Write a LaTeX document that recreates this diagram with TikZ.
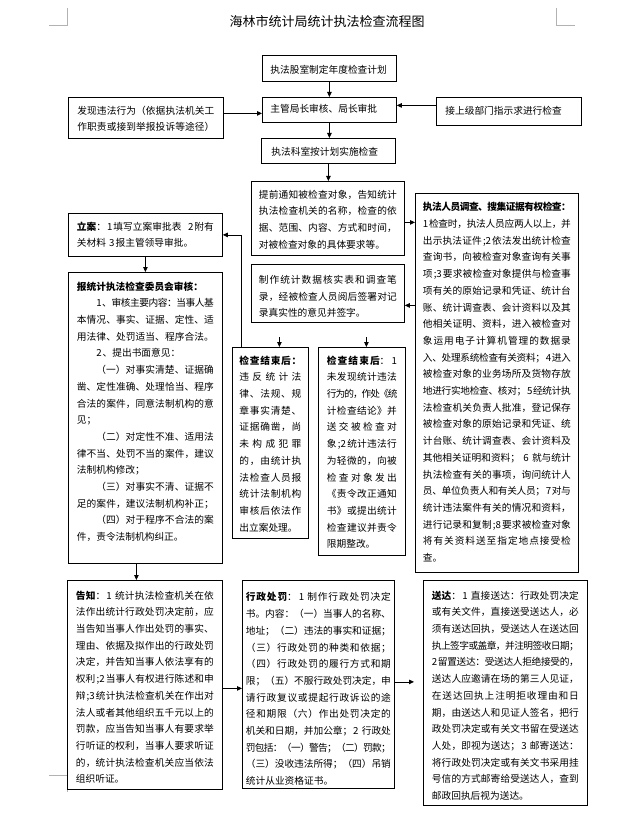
\documentclass[tikz,border=0pt]{standalone}
\usepackage{fontspec}
\setmainfont{Noto Sans CJK SC}
\usetikzlibrary{positioning, arrows.meta, calc}

% glue between Chinese characters, so that set lines can be justified
\XeTeXinterchartokenstate=1
\chardef\hzclass=10
\newcount\hzcnt
\hzcnt="3000 \loop\XeTeXcharclass\hzcnt=\hzclass \advance\hzcnt by 1 \ifnum\hzcnt<"3040 \repeat
\hzcnt="4E00 \loop\XeTeXcharclass\hzcnt=\hzclass \advance\hzcnt by 1 \ifnum\hzcnt<"A000 \repeat
\hzcnt="FF00 \loop\XeTeXcharclass\hzcnt=\hzclass \advance\hzcnt by 1 \ifnum\hzcnt<"FFF0 \repeat
\XeTeXinterchartoks\hzclass\hzclass={\hskip 0pt plus 1pt minus 1pt\relax}
\XeTeXinterchartoks 0 \hzclass={\hskip 1pt plus 1pt minus 1pt\relax}
\XeTeXinterchartoks\hzclass 0 ={\hskip 1pt plus 1pt minus 1pt\relax}

\newcommand\jline[1]{\hbox to\linewidth{#1}}
\newcommand\lline[1]{\hbox to\linewidth{#1\hfil}}

\begin{document}
\begin{tikzpicture}[
  x=1pt, y=-1pt,
  font=\fontsize{9.7}{16.7}\selectfont,
  flowbox/.style={draw, line width=0.8pt, fill=white, anchor=north west, inner xsep=2pt, inner ysep=0pt, text height=16.7pt},
  arr/.style={-{Triangle[length=5pt,width=4.5pt]}, line width=0.8pt},
  cropmark/.style={draw=gray!60, line width=0.6pt}
]
\useasboundingbox (0,0) rectangle (623,826);

% page corner marks
\draw[cropmark] (49,25) -- (67,25) -- (67,8);
\draw[cropmark] (575,25) -- (556,25) -- (556,8);
\draw[cropmark] (49,775) -- (67,775) -- (67,792);

\node[font=\fontsize{13}{15}\selectfont] (title) at (327,22) {海林市统计局统计执法检查流程图};

% top row
\node[flowbox, text width=118pt, minimum width=134pt, text height=18.5pt, text depth=7.5pt] (planbox) at (262,55) {\lline{执法股室制定年度检查计划}};
\node[flowbox, text width=118pt, minimum width=134pt, text height=15pt, text depth=10pt] (approvebox) at (262,97) {\lline{主管局长审核、局长审批}};
\node[flowbox, text width=137pt, minimum width=155pt, text depth=24.3pt] (findbox) at (68,97) {%
  \jline{发现违法行为（依据执法机关工}
  \jline{作职责或接到举报投诉等途径）}};
\node[flowbox, text width=127pt, minimum width=145pt, text depth=11.3pt] (upperbox) at (436,97) {\lline{接上级部门指示求进行检查}};
\node[flowbox, text width=114pt, minimum width=134pt, text height=17.4pt, text depth=7.6pt] (executebox) at (261,138) {\lline{执法科室按计划实施检查}};

% middle column
\node[flowbox, text width=138pt, minimum width=153pt, text depth=57.3pt] (noticebox) at (251,181) {%
  \jline{提前通知被检查对象，告知统计}
  \jline{执法检查机关的名称，检查的依}
  \jline{据、范围、内容、方式和时间，}
  \lline{对被检查对象的具体要求等。}};
\node[flowbox, text width=138pt, minimum width=153pt, text height=19pt, text depth=39pt] (makebox) at (251,264) {%
  \jline{制作统计数据核实表和调查笔}
  \jline{录，经被检查人员阅后签署对记}
  \lline{录真实性的意见并签字。}};

% investigation
\node[flowbox, text width=148pt, minimum width=163pt, text height=17.4pt, text depth=361.6pt] (bigbox) at (415,193) {%
  \jline{\bfseries 执法人员调查、搜集证据有权检查：}
  \jline{1检查时，执法人员应两人以上，并}
  \jline{出示执法证件;2依法发出统计检查}
  \jline{查询书，向被检查对象查询有关事}
  \jline{项;3要求被检查对象提供与检查事}
  \jline{项有关的原始记录和凭证、统计台}
  \jline{账、统计调查表、会计资料以及其}
  \jline{他相关证明、资料，进入被检查对}
  \jline{象运用电子计算机管理的数据录}
  \jline{入、处理系统检查有关资料；4进入}
  \jline{被检查对象的业务场所及货物存放}
  \jline{地进行实地检查、核对；5经统计执}
  \jline{法检查机关负责人批准，登记保存}
  \jline{被检查对象的原始记录和凭证、统}
  \jline{计台账、统计调查表、会计资料及}
  \jline{其他相关证明和资料； 6 就与统计}
  \jline{执法检查有关的事项，询问统计人}
  \jline{员、单位负责人和有关人员；7对与}
  \jline{统计违法案件有关的情况和资料，}
  \jline{进行记录和复制;8要求被检查对象}
  \jline{将有关资料送至指定地点接受检}
  \lline{查。}};

% left column
\node[flowbox, text width=137pt, minimum width=154pt, text depth=26.3pt] (filebox) at (68,213) {%
  \jline{{\bfseries 立案}：1填写立案审批表\ \ 2附有}
  \lline{关材料 3报主管领导审批。}};
\node[flowbox, text width=137pt, minimum width=154pt, text height=17.7pt, text depth=273.3pt] (reviewbox) at (68,272) {%
  \lline{\bfseries 报统计执法检查委员会审核：}
  \jline{\hskip2em 1、审核主要内容：当事人基}
  \jline{本情况、事实、证据、定性、适}
  \jline{用法律、处罚适当、程序合法。}
  \lline{\hskip2em 2、提出书面意见：}
  \jline{\hskip2em（一）对事实清楚、证据确}
  \jline{凿、定性准确、处理恰当、程序}
  \jline{合法的案件，同意法制机构的意}
  \lline{见；}
  \jline{\hskip2em（二）对定性不准、适用法}
  \jline{律不当、处罚不当的案件，建议}
  \lline{法制机构修改；}
  \jline{\hskip2em（三）对事实不清、证据不}
  \jline{足的案件，建议法制机构补正；}
  \jline{\hskip2em（四）对于程序不合法的案}
  \lline{件，责令法制机构纠正。}};

% results of the check
\node[flowbox, text width=62pt, minimum width=76pt, text depth=174.3pt] (endleftbox) at (232,347) {%
  \jline{\bfseries 检查结束后：}
  \jline{违反统计法}
  \jline{律、法规、规}
  \jline{章事实清楚、}
  \jline{证据确凿，尚}
  \jline{未构成犯罪}
  \jline{的，由统计执}
  \jline{法检查人员报}
  \jline{统计法制机构}
  \jline{审核后依法作}
  \lline{出立案处理。}};
\node[flowbox, text width=70pt, minimum width=87pt, text depth=191.3pt] (endrightbox) at (318,347) {%
  \jline{{\bfseries 检查结束后}：1}
  \jline{未发现统计违法}
  \jline{行为的，作处《统}
  \jline{计检查结论》并}
  \jline{送交被检查对}
  \jline{象;2统计违法行}
  \jline{为轻微的，向被}
  \jline{检查对象发出}
  \jline{《责令改正通知}
  \jline{书》或提出统计}
  \jline{检查建议并责令}
  \lline{限期整改。}};

% bottom row
\node[flowbox, text width=138pt, minimum width=155pt, text height=18.7pt, text depth=190.3pt] (informbox) at (67,580) {%
  \jline{{\bfseries 告知}：1 统计执法检查机关在依}
  \jline{法作出统计行政处罚决定前，应}
  \jline{当告知当事人作出处罚的事实、}
  \jline{理由、依据及拟作出的行政处罚}
  \jline{决定，并告知当事人依法享有的}
  \jline{权利;2当事人有权进行陈述和申}
  \jline{辩;3统计执法检查机关在作出对}
  \jline{法人或者其他组织五千元以上的}
  \jline{罚款，应当告知当事人有要求举}
  \jline{行听证的权利，当事人要求听证}
  \jline{的，统计执法检查机关应当依法}
  \lline{组织听证。}};
\node[flowbox, text width=145pt, minimum width=152pt, text height=20.5pt, text depth=187.5pt] (punishbox) at (242,580) {%
  \jline{{\bfseries 行政处罚}：1 制作行政处罚决定}
  \jline{书。内容：（一）当事人的名称、}
  \jline{地址；（二）违法的事实和证据；}
  \jline{（三）行政处罚的种类和依据；}
  \jline{（四）行政处罚的履行方式和期}
  \jline{限；（五）不服行政处罚决定，申}
  \jline{请行政复议或提起行政诉讼的途}
  \jline{径和期限（六）作出处罚决定的}
  \jline{机关和日期，并加公章；2 行政处}
  \jline{罚包括：（一）警告；（二）罚款；}
  \jline{（三）没收违法所得；（四）吊销}
  \lline{统计从业资格证书。}};
\node[flowbox, text width=147pt, minimum width=164pt, text height=18.7pt, text depth=206.3pt] (deliverbox) at (423,580) {%
  \jline{{\bfseries 送达}：1 直接送达：行政处罚决定}
  \jline{或有关文件，直接送受送达人，必}
  \jline{须有送达回执，受送达人在送达回}
  \jline{执上签字或盖章，并注明签收日期；}
  \jline{2留置送达：受送达人拒绝接受的，}
  \jline{送达人应邀请在场的第三人见证，}
  \jline{在送达回执上注明拒收理由和日}
  \jline{期，由送达人和见证人签名，把行}
  \jline{政处罚决定或有关文书留在受送达}
  \jline{人处，即视为送达；3 邮寄送达：}
  \jline{将行政处罚决定或有关文书采用挂}
  \jline{号信的方式邮寄给受送达人，查到}
  \lline{邮政回执后视为送达。}};

% connectors
\draw[arr] (planbox.south) -- (approvebox.north);
\coordinate (findout) at ([yshift=4.5pt]findbox.east);
\draw[arr] (findout) -- (findout -| approvebox.west);
\coordinate (upperout) at ([yshift=6pt]upperbox.west);
\draw[arr] (upperout) -- (upperout -| approvebox.east);
\draw[arr] (approvebox.south) -- (approvebox.south |- executebox.north);
\draw[arr] (executebox.south) -- (executebox.south |- noticebox.north);
\coordinate (noticeout) at ([yshift=-4pt]noticebox.east);
\draw[arr] (noticeout) -- (noticeout -| bigbox.west);
\coordinate (makein) at ([yshift=-12pt]makebox.east);
\draw[arr] (makein -| bigbox.west) -- (makein);
\coordinate (dropl) at ([xshift=9pt,yshift=10pt]endleftbox.north);
\draw[arr] (dropl) -- (dropl |- endleftbox.north);
\coordinate (dropr) at ([xshift=4.5pt,yshift=10pt]endrightbox.north);
\draw[arr] (dropr) -- (dropr |- endrightbox.north);
\draw[arr] ([xshift=-29pt]endleftbox.north) |- (filebox.east);
\draw[arr] (filebox.south) -- (reviewbox.north);
\coordinate (reviewout) at ([xshift=-9pt]reviewbox.south);
\draw[arr] (reviewout) -- (reviewout |- informbox.north);
\coordinate (informout) at ([yshift=-3.5pt]informbox.east);
\draw[arr] (informout) -- (informout -| punishbox.west);
\coordinate (punishout) at ([yshift=2.5pt]punishbox.east);
\draw[arr, shorten >=9pt] (punishout) -- (punishout -| deliverbox.west);
\end{tikzpicture}
\end{document}
